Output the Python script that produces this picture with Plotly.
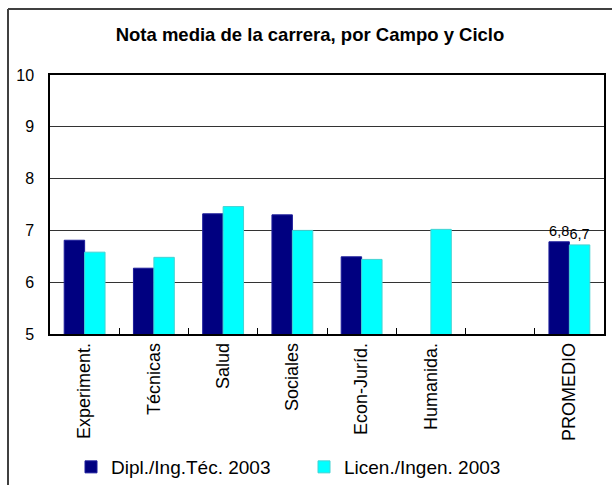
import plotly.graph_objects as go

categories = ["Experiment.", "Técnicas", "Salud", "Sociales", "Econ-Juríd.", "Humanida.", " ", "PROMEDIO"]
dipl_values = [6.81, 6.27, 7.32, 7.30, 6.49, None, None, 6.78]
licen_values = [6.58, 6.48, 7.46, 7.00, 6.44, 7.02, None, 6.72]
labelled = ["PROMEDIO"]
series_names = ["Dipl./Ing.Téc. 2003", "Licen./Ingen. 2003"]
y_ticks = [5, 6, 7, 8, 9, 10]


def labels(cats, vals):
    out = []
    for c, v in zip(cats, vals):
        if c in labelled and v is not None:
            out.append(f"{v:.1f}".replace(".", ","))
        else:
            out.append("")
    return out


FONT = "Liberation Sans, Arial, sans-serif"

fig = go.Figure()
fig.add_trace(go.Bar(
    x=categories, y=dipl_values, name=series_names[0],
    marker=dict(color="#000080", line=dict(color="#1c1c9a", width=1)),
    text=labels(categories, dipl_values), textposition="outside",
    textfont=dict(size=14.5, color="#000000", family=FONT), cliponaxis=False,
))
fig.add_trace(go.Bar(
    x=categories, y=licen_values, name=series_names[1],
    marker=dict(color="#00FFFF", line=dict(color="#45d3d3", width=1)),
    text=labels(categories, licen_values), textposition="outside",
    textfont=dict(size=14.5, color="#000000", family=FONT), cliponaxis=False,
))

L, R, T, B = 50, 8, 75, 151
W, H = 612, 485
pw, ph = W - L - R, H - T - B


def px_x(p):
    return (p - L) / pw


def px_y(p):
    return (H - B - p) / ph


fig.update_layout(
    width=W, height=H,
    margin=dict(l=L, r=R, t=T, b=B, autoexpand=False),
    paper_bgcolor="white", plot_bgcolor="white",
    font=dict(family=FONT, color="#000000"),
    barmode="group", bargap=0.41, bargroupgap=0,
    title=dict(text="<b>Nota media de la carrera, por Campo y Ciclo</b>",
               x=310 / W, xanchor="center", y=1 - 35 / H, yanchor="middle",
               font=dict(size=18.5, family=FONT, color="#000000")),
    legend=dict(orientation="h", x=71 / W, xanchor="left", xref="container",
                y=1 - 467 / H, yanchor="middle", yref="container",
                font=dict(size=19, family=FONT), itemwidth=30,
                entrywidth=188, entrywidthmode="pixels",
                bgcolor="rgba(0,0,0,0)"),
    showlegend=True,
    shapes=[
        dict(type="line", xref="paper", yref="paper",
             x0=px_x(8), x1=px_x(8), y0=px_y(9), y1=px_y(495),
             line=dict(color="#404040", width=2)),
        dict(type="line", xref="paper", yref="paper",
             x0=px_x(8), x1=px_x(620), y0=px_y(9), y1=px_y(9),
             line=dict(color="#404040", width=2)),
    ],
)

fig.update_xaxes(
    type="category", categoryorder="array", categoryarray=categories,
    tickangle=-90, tickfont=dict(size=18, family=FONT),
    ticks="inside", tickson="boundaries", ticklen=6, tickcolor="#000000",
    showline=True, linecolor="#000000", linewidth=1.5, mirror=True,
    showgrid=False, automargin=False,
)
fig.update_yaxes(
    range=[5, 10], tickvals=y_ticks, ticktext=[str(v) for v in y_ticks],
    tickfont=dict(size=16, family=FONT),
    showgrid=True, gridcolor="#333333", gridwidth=1,
    showline=True, linecolor="#000000", linewidth=1.5, mirror=True,
    ticks="", ticklabelstandoff=11, zeroline=False, automargin=False,
)

fig.write_html("out.html",
               config={"displayModeBar": False},
               post_script="document.body.style.margin='0';document.body.style.overflow='hidden';")
